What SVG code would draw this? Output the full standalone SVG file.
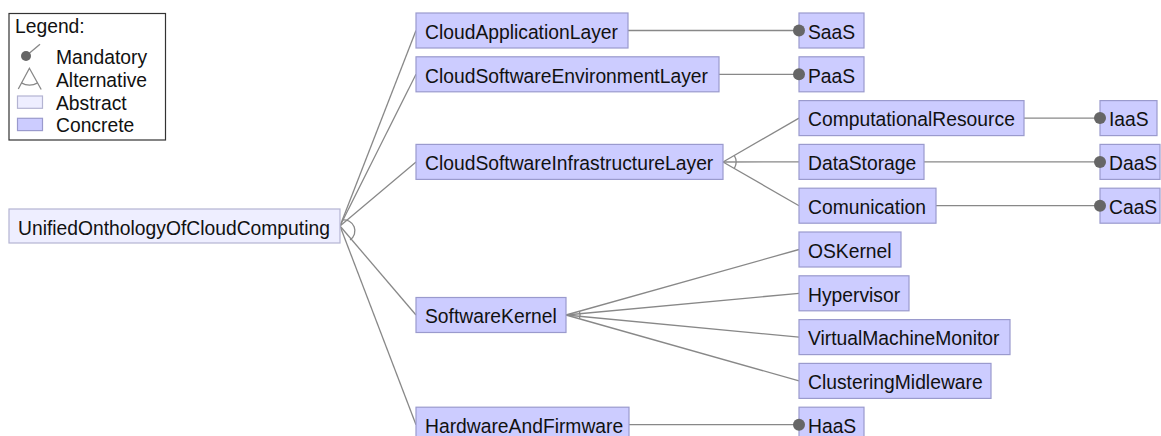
<svg xmlns="http://www.w3.org/2000/svg" width="1161" height="436" viewBox="0 0 1161 436">
  <style>
    text { font-family: "Liberation Sans", Arial, sans-serif; font-size: 19.3px; fill: #111; }
    .concrete { fill: #CCCCFF; stroke: #9A9ACD; stroke-width: 1.2; }
    .abstract { fill: #EEEEFF; stroke: #B4B4D2; stroke-width: 1.2; }
    .edge { stroke: #888; stroke-width: 1.3; fill: none; }
    .dot { fill: #666; }
  </style>
  <rect width="1161" height="436" fill="#fff"/>

  <!-- legend -->
  <g id="legend">
    <rect x="9" y="13.5" width="156.5" height="126.5" fill="#fff" stroke="#333" stroke-width="1.2"/>
    <text x="15" y="33">Legend:</text>
    <line x1="26" y1="56" x2="40" y2="44.3" class="edge"/>
    <circle cx="26" cy="56" r="5" class="dot"/>
    <text x="56" y="64.3">Mandatory</text>
    <path d="M18.3 89 L29.4 68.3 L41.2 89.5" class="edge"/>
    <path d="M21.3 82.9 A17 17 0 0 0 37.7 82.9" class="edge"/>
    <text x="56" y="87.3">Alternative</text>
    <rect x="17.5" y="96" width="25" height="12.3" class="abstract"/>
    <text x="56" y="110">Abstract</text>
    <rect x="17.5" y="118.3" width="25" height="12.3" class="concrete"/>
    <text x="56" y="132">Concrete</text>
  </g>

  <!-- connectors -->
  <g id="connectors">
    <!-- root alternative group -->
    <line x1="340" y1="226" x2="416" y2="30.5" class="edge"/>
    <line x1="340" y1="226" x2="416" y2="74.3" class="edge"/>
    <line x1="340" y1="226" x2="416" y2="161.9" class="edge"/>
    <line x1="340" y1="226" x2="416" y2="315" class="edge"/>
    <line x1="340" y1="226" x2="416" y2="424.7" class="edge"/>
    <path d="M342 220 A11 11 0 0 1 350 240" class="edge"/>

    <!-- infrastructure alternative group -->
    <line x1="723" y1="162" x2="799" y2="118.1" class="edge"/>
    <line x1="723" y1="162" x2="799" y2="161.9" class="edge"/>
    <line x1="723" y1="162" x2="799" y2="205.7" class="edge"/>
    <path d="M734.3 155.5 A13 13 0 0 1 734.3 168.5" class="edge"/>

    <!-- kernel alternative group -->
    <line x1="566" y1="315" x2="799" y2="249.5" class="edge"/>
    <line x1="566" y1="315" x2="799" y2="293.3" class="edge"/>
    <line x1="566" y1="315" x2="799" y2="337.1" class="edge"/>
    <line x1="566" y1="315" x2="799" y2="380.9" class="edge"/>
    <path d="M579.5 311.2 A14 14 0 0 1 579.5 318.8" class="edge"/>

    <!-- mandatory children -->
    <line x1="628" y1="30.5" x2="799" y2="30.5" class="edge"/>
    <line x1="719" y1="74.3" x2="799" y2="74.3" class="edge"/>
    <line x1="1024" y1="118.1" x2="1100" y2="118.1" class="edge"/>
    <line x1="924" y1="161.9" x2="1100" y2="161.9" class="edge"/>
    <line x1="936" y1="205.7" x2="1100" y2="205.7" class="edge"/>
    <line x1="629" y1="424.7" x2="799" y2="424.7" class="edge"/>
  </g>

  <!-- features -->
  <g id="UnifiedOnthologyOfCloudComputing">
    <rect x="9" y="209" width="331" height="34" class="abstract"/>
    <text x="18" y="235">UnifiedOnthologyOfCloudComputing</text>
  </g>
  <g id="CloudApplicationLayer">
    <rect x="416" y="13" width="212" height="35" class="concrete"/>
    <text x="425" y="38.7">CloudApplicationLayer</text>
  </g>
  <g id="CloudSoftwareEnvironmentLayer">
    <rect x="416" y="56.8" width="303" height="35" class="concrete"/>
    <text x="425" y="82.5">CloudSoftwareEnvironmentLayer</text>
  </g>
  <g id="CloudSoftwareInfrastructureLayer">
    <rect x="416" y="144.4" width="307" height="35" class="concrete"/>
    <text x="425" y="170.1">CloudSoftwareInfrastructureLayer</text>
  </g>
  <g id="SoftwareKernel">
    <rect x="416" y="297.5" width="150" height="35" class="concrete"/>
    <text x="425" y="323.2">SoftwareKernel</text>
  </g>
  <g id="HardwareAndFirmware">
    <rect x="416" y="407.2" width="213" height="35" class="concrete"/>
    <text x="425" y="432.9">HardwareAndFirmware</text>
  </g>
  <g id="SaaS">
    <rect x="799" y="13" width="65" height="35" class="concrete"/>
    <text x="808" y="38.7">SaaS</text>
  </g>
  <g id="PaaS">
    <rect x="799" y="56.8" width="65" height="35" class="concrete"/>
    <text x="808" y="82.5">PaaS</text>
  </g>
  <g id="ComputationalResource">
    <rect x="799" y="100.6" width="225" height="35" class="concrete"/>
    <text x="808" y="126.3">ComputationalResource</text>
  </g>
  <g id="DataStorage">
    <rect x="799" y="144.4" width="125" height="35" class="concrete"/>
    <text x="808" y="170.1">DataStorage</text>
  </g>
  <g id="Comunication">
    <rect x="799" y="188.2" width="137" height="35" class="concrete"/>
    <text x="808" y="213.9">Comunication</text>
  </g>
  <g id="OSKernel">
    <rect x="799" y="232" width="102" height="35" class="concrete"/>
    <text x="808" y="257.7">OSKernel</text>
  </g>
  <g id="Hypervisor">
    <rect x="799" y="275.8" width="110" height="35" class="concrete"/>
    <text x="808" y="301.5">Hypervisor</text>
  </g>
  <g id="VirtualMachineMonitor">
    <rect x="799" y="319.6" width="211" height="35" class="concrete"/>
    <text x="808" y="345.3">VirtualMachineMonitor</text>
  </g>
  <g id="ClusteringMidleware">
    <rect x="799" y="363.4" width="192" height="35" class="concrete"/>
    <text x="808" y="389.1">ClusteringMidleware</text>
  </g>
  <g id="HaaS">
    <rect x="799" y="407.2" width="65" height="35" class="concrete"/>
    <text x="808" y="432.9">HaaS</text>
  </g>
  <g id="IaaS">
    <rect x="1100" y="100.6" width="57" height="35" class="concrete"/>
    <text x="1109" y="126.3">IaaS</text>
  </g>
  <g id="DaaS">
    <rect x="1100" y="144.4" width="60" height="35" class="concrete"/>
    <text x="1109" y="170.1">DaaS</text>
  </g>
  <g id="CaaS">
    <rect x="1100" y="188.2" width="60" height="35" class="concrete"/>
    <text x="1109" y="213.9">CaaS</text>
  </g>

  <!-- mandatory markers drawn over the child boxes -->
  <g id="mandatory-markers">
    <circle cx="799" cy="30.5" r="6" class="dot"/>
    <circle cx="799" cy="74.3" r="6" class="dot"/>
    <circle cx="1100" cy="118.1" r="6" class="dot"/>
    <circle cx="1100" cy="161.9" r="6" class="dot"/>
    <circle cx="1100" cy="205.7" r="6" class="dot"/>
    <circle cx="799" cy="424.7" r="6" class="dot"/>
  </g>
</svg>
